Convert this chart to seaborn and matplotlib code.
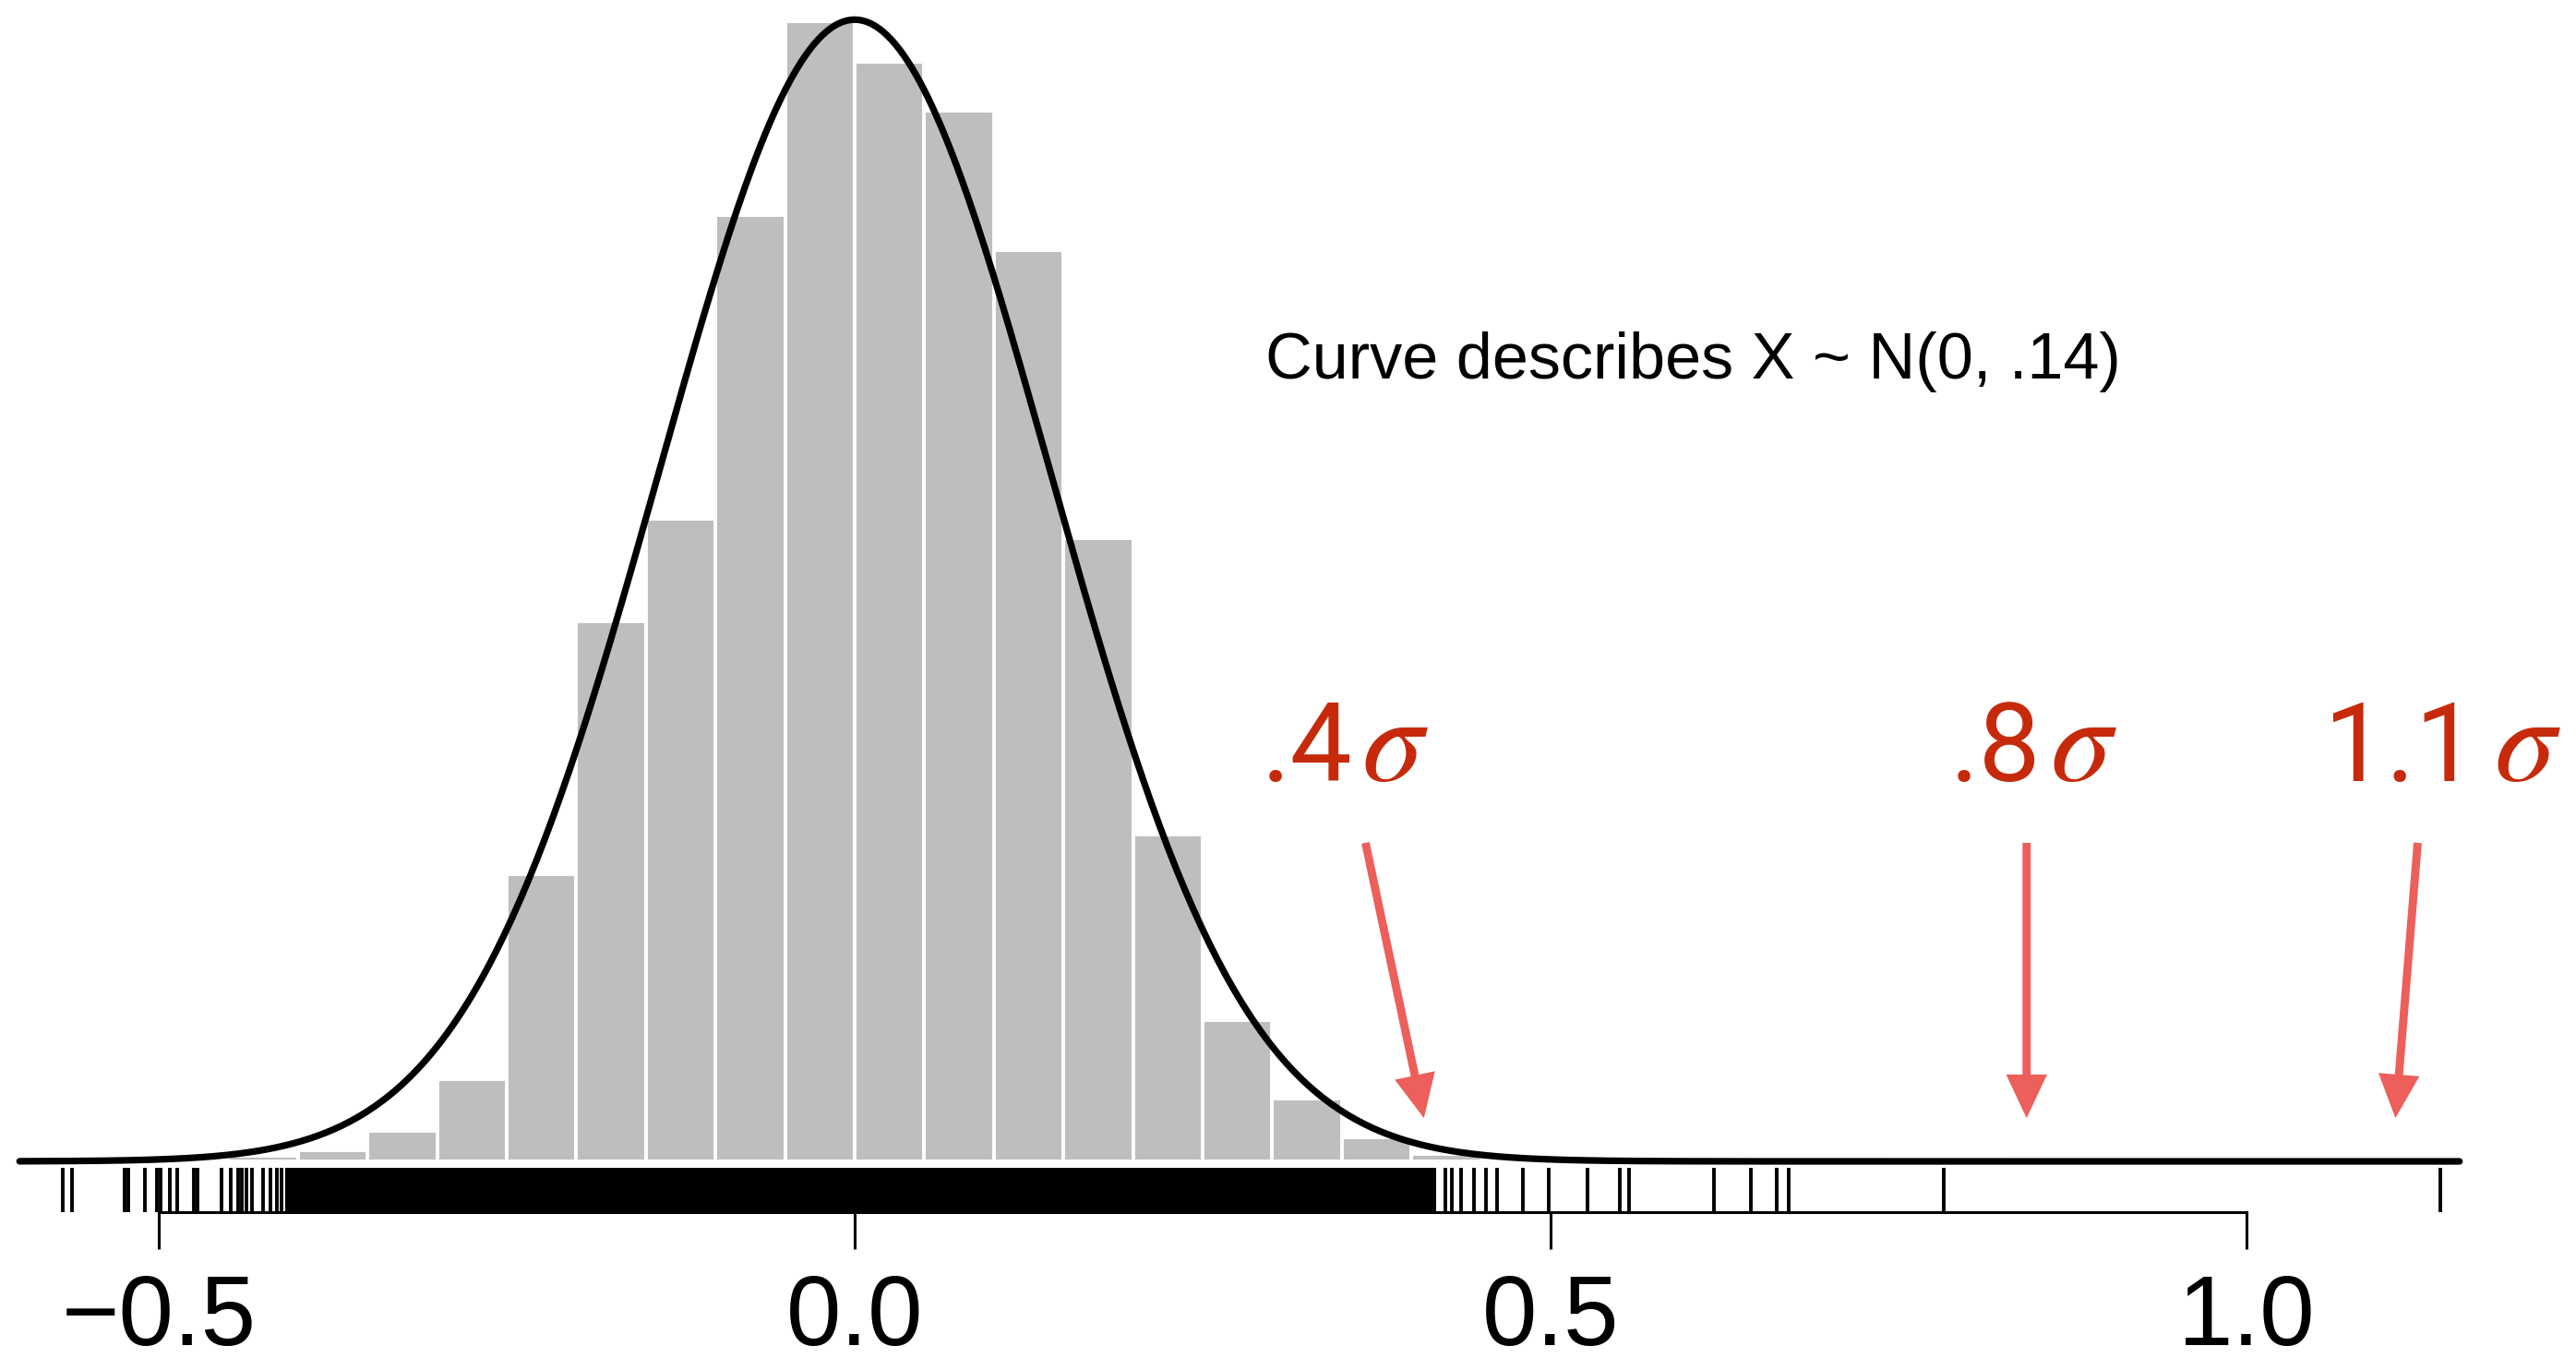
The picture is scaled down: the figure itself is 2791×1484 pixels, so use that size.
import numpy as np
import pandas as pd
import matplotlib
matplotlib.use("Agg")
import matplotlib.pyplot as plt
import seaborn as sns

# ---------------- data ----------------
bin_edges = [-0.45, -0.40, -0.35, -0.30, -0.25, -0.20, -0.15, -0.10, -0.05, 0.00,
             0.05, 0.10, 0.15, 0.20, 0.25, 0.30, 0.35, 0.40, 0.45]
bin_density = [0.014, 0.028, 0.076, 0.205, 0.717, 1.348, 1.604, 2.362, 2.846,
               2.744, 2.621, 2.274, 1.555, 0.816, 0.353, 0.157, 0.060, 0.018]

curve_mu = 0.0
curve_sigma = 0.14
curve_from, curve_to = -0.6, 1.153

rug_values = [-0.5688, -0.5621, -0.5245, -0.5219, -0.5101, -0.5013, -0.4987,
              -0.4920, -0.4869, -0.4748, -0.4721, -0.4549, -0.4483, -0.4430,
              -0.4403, -0.4372, -0.4328, -0.4251, -0.4196, -0.4151, -0.4118,
              0.4244, 0.4290, 0.4357, 0.4450, 0.4536, 0.4615, 0.4801, 0.4987,
              0.5265, 0.5497, 0.5564, 0.6174, 0.6439, 0.6625, 0.6711, 0.7825,
              1.1393]
rug_dense_band = (-0.409, 0.418)   # ticks merge into a solid band here

tick_values = [-0.5, 0.0, 0.5, 1.0]
tick_labels = ["\u22120.5", "0.0", "0.5", "1.0"]

note_text = "Curve describes X ~ N(0, .14)"
sigma_labels = [".4", ".8", "1.1"]
arrow_tail_x = [0.367, 0.842, 1.123]
arrow_head_x = [0.409, 0.842, 1.107]

# ---------------- style ----------------
sns.set_style("white")
plt.rcParams["font.family"] = ["Liberation Sans", "DejaVu Sans"]

W, H, DPI = 2791, 1484, 200
fig = plt.figure(figsize=(W / DPI, H / DPI), dpi=DPI)
ax = fig.add_axes([21.2 / W, 1 - 1313 / H, 2714.4 / W, 1313 / H])
ax.set_xlim(-0.6, 1.2)
ax.set_ylim(-0.1267, 2.8986)

# histogram (pre-binned densities)
centers = [(bin_edges[i] + bin_edges[i + 1]) / 2 for i in range(len(bin_density))]
hist_df = pd.DataFrame({"x": centers, "w": bin_density})
sns.histplot(data=hist_df, x="x", weights="w", bins=bin_edges, stat="count",
             color="#BEBEBE", edgecolor="white", linewidth=1.4, alpha=1.0,
             ax=ax, zorder=1)

# normal curve
xs = np.linspace(curve_from, curve_to, 600)
ys = np.exp(-0.5 * ((xs - curve_mu) / curve_sigma) ** 2) / (curve_sigma * np.sqrt(2 * np.pi))
sns.lineplot(x=xs, y=ys, color="black", linewidth=2.6, ax=ax, sort=False,
             estimator=None, zorder=3)
for ln in ax.lines:
    ln.set_solid_capstyle("round")
    ln.set_clip_on(False)

# rug
rug_h = 48 / 1313
sns.rugplot(x=rug_values, height=rug_h, color="black", linewidth=1.4,
            expand_margins=False, ax=ax)
ax.axvspan(rug_dense_band[0], rug_dense_band[1], ymin=0, ymax=rug_h,
           color="black", lw=0)

# axis
for s in ["left", "top", "right"]:
    ax.spines[s].set_visible(False)
ax.spines["bottom"].set_bounds(-0.5, 1.0)
ax.spines["bottom"].set_linewidth(1.1)
ax.spines["bottom"].set_color("black")
ax.set_xticks(tick_values, tick_labels)
ax.set_yticks([])
ax.tick_params(axis="x", direction="out", length=14.4, width=1.1, pad=9.5,
               labelsize=38.5, colors="black", bottom=True)
ax.set_xlabel("")
ax.set_ylabel("")

# note
ax.text(0.295, 1.954, note_text, fontsize=25.3, color="black",
        ha="left", va="baseline")

# sigma labels + arrows
red_text = "#C62A0B"
red_arrow = "#EC5F5A"
digit_x = [0.292, 0.787, 1.056]
sigma_x = [0.364, 0.859, 1.178]
for lab, dx, sx in zip(sigma_labels, digit_x, sigma_x):
    ax.text(dx, 0.949, lab, fontsize=43, color=red_text, family=["Roboto", "DejaVu Sans"],
            fontweight="normal", ha="left", va="baseline")
    ax.text(sx, 0.949, r"$\sigma$", fontsize=48, color=red_text,
            math_fontfamily="stix", ha="left", va="baseline")

for tx, hx in zip(arrow_tail_x, arrow_head_x):
    ax.annotate("", xy=(hx, 0.108), xytext=(tx, 0.795),
                arrowprops=dict(width=3.2, headwidth=16, headlength=17,
                                shrink=0, color=red_arrow, lw=0))

fig.savefig("out.png", dpi=DPI)
